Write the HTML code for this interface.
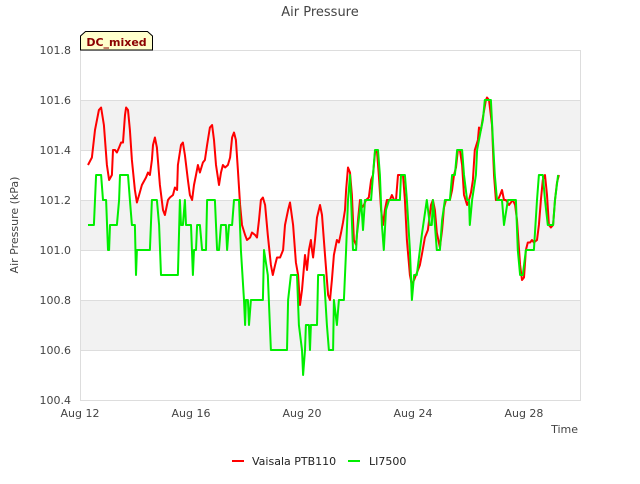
<!DOCTYPE html>
<html><head><meta charset="utf-8"><style>
body{margin:0;background:#fff;font-family:"DejaVu Sans","Liberation Sans",sans-serif;}
svg text{font-family:"DejaVu Sans","Liberation Sans",sans-serif;}
</style></head><body>
<svg id="chart" width="640" height="480" viewBox="0 0 640 480" xmlns="http://www.w3.org/2000/svg">
<rect width="640" height="480" fill="#fff"/>
<g id="bands"></g>
<g id="grid"></g>
<rect x="80.5" y="50.5" width="500" height="350" fill="none" stroke="#ddd"/>
<g id="yticks"></g>
<g id="xticks"></g>
<g id="series"></g>
<text x="320" y="16" text-anchor="middle" font-size="13" fill="#444">Air Pressure</text>
<text transform="translate(18,225) rotate(-90)" text-anchor="middle" font-size="11" fill="#444">Air Pressure (kPa)</text>
<text x="578" y="433" text-anchor="end" font-size="11" fill="#444">Time</text>
<g>
<path d="M80.5,50 L80.5,36 L85.5,31.5 L147.5,31.5 L152.5,36 L152.5,50 Z" fill="#ffffcc" stroke="#000" stroke-width="1"/>
<text x="116.5" y="46" text-anchor="middle" font-size="11" font-weight="bold" fill="#8b0000">DC_mixed</text>
</g>
<g>
<line x1="232" y1="461" x2="244" y2="461" stroke="#ff0000" stroke-width="2"/>
<text x="252" y="465" font-size="11" fill="#222">Vaisala PTB110</text>
<line x1="348" y1="461" x2="360" y2="461" stroke="#00ee00" stroke-width="2"/>
<text x="369" y="465" font-size="11" fill="#222">LI7500</text>
</g>
</svg>
<script>
const yTicks=[100.4,100.6,100.8,101.0,101.2,101.4,101.6,101.8];
const xTickDays=[0,4,8,12,16];
const xTickLabels=["Aug 12","Aug 16","Aug 20","Aug 24","Aug 28"];
const redDays=[.29,.43,.54,.68,.76,.86,.97,1.05,1.15,1.19,1.26,1.33,1.41,1.48,1.55,1.62,1.66,1.73,1.80,1.87,1.98,2.05,2.13,2.23,2.38,2.45,2.52,2.59,2.63,2.70,2.77,2.88,2.99,3.06,3.17,3.24,3.35,3.42,3.50,3.53,3.64,3.71,3.78,3.89,3.96,4.04,4.11,4.18,4.25,4.32,4.43,4.50,4.58,4.68,4.76,4.83,4.90,5.01,5.08,5.15,5.23,5.33,5.41,5.48,5.55,5.62,5.69,5.77,5.84,5.95,6.02,6.13,6.20,6.31,6.38,6.45,6.52,6.59,6.67,6.77,6.88,6.95,7.03,7.10,7.21,7.32,7.39,7.50,7.57,7.68,7.78,7.86,7.93,8.00,8.11,8.18,8.25,8.32,8.36,8.40,8.47,8.54,8.65,8.72,8.83,8.94,9.01,9.08,9.15,9.26,9.33,9.41,9.48,9.55,9.59,9.66,9.73,9.80,9.87,9.95,10.02,10.09,10.16,10.23,10.31,10.41,10.49,10.56,10.63,10.70,10.77,10.85,10.92,10.99,11.06,11.17,11.24,11.32,11.39,11.46,11.57,11.64,11.71,11.78,11.89,11.96,12.04,12.11,12.18,12.25,12.32,12.43,12.54,12.65,12.72,12.79,12.86,12.97,13.05,13.12,13.19,13.26,13.33,13.41,13.48,13.55,13.62,13.69,13.77,13.84,13.95,14.02,14.09,14.16,14.23,14.34,14.38,14.45,14.52,14.63,14.67,14.74,14.85,14.92,14.99,15.06,15.14,15.21,15.28,15.35,15.46,15.53,15.60,15.68,15.75,15.86,15.93,16.00,16.07,16.14,16.22,16.29,16.36,16.47,16.54,16.61,16.68,16.76,16.83,16.90,16.97,17.05,17.12,17.19,17.26];
const redValues=[101.34,101.37,101.48,101.56,101.57,101.50,101.34,101.28,101.30,101.40,101.40,101.39,101.41,101.43,101.43,101.54,101.57,101.56,101.48,101.36,101.24,101.19,101.22,101.26,101.29,101.31,101.30,101.36,101.42,101.45,101.41,101.26,101.16,101.14,101.20,101.21,101.22,101.25,101.24,101.34,101.42,101.43,101.38,101.28,101.22,101.20,101.26,101.30,101.34,101.31,101.35,101.36,101.42,101.49,101.50,101.44,101.34,101.26,101.31,101.34,101.33,101.34,101.37,101.45,101.47,101.44,101.32,101.18,101.10,101.06,101.04,101.05,101.07,101.06,101.05,101.12,101.20,101.21,101.18,101.06,100.94,100.90,100.94,100.97,100.97,101.00,101.10,101.16,101.19,101.10,100.95,100.90,100.78,100.84,100.98,100.92,101.00,101.04,101.00,100.97,101.04,101.13,101.18,101.14,100.98,100.82,100.80,100.88,100.98,101.04,101.03,101.07,101.11,101.16,101.24,101.33,101.31,101.22,101.04,101.02,101.12,101.20,101.17,101.18,101.20,101.21,101.28,101.30,101.39,101.40,101.30,101.16,101.10,101.16,101.20,101.20,101.22,101.20,101.20,101.30,101.30,101.30,101.20,101.04,100.90,100.86,100.88,100.90,100.92,100.94,100.98,101.05,101.08,101.18,101.20,101.16,101.07,101.01,101.08,101.17,101.20,101.20,101.20,101.24,101.30,101.33,101.40,101.40,101.34,101.22,101.18,101.20,101.23,101.28,101.40,101.44,101.49,101.48,101.53,101.60,101.61,101.60,101.50,101.30,101.20,101.20,101.22,101.24,101.20,101.20,101.18,101.19,101.20,101.18,101.12,100.94,100.88,100.89,101.00,101.03,101.03,101.04,101.03,101.04,101.10,101.20,101.28,101.30,101.22,101.10,101.09,101.10,101.20,101.27,101.30];
const greenDays=[.29,.50,.58,.76,.83,.94,1.01,1.05,1.08,1.33,1.41,1.44,1.73,1.80,1.87,1.98,2.02,2.05,2.52,2.59,2.77,2.85,2.92,3.53,3.60,3.64,3.71,3.78,3.82,4.00,4.07,4.11,4.18,4.22,4.32,4.40,4.54,4.58,4.86,4.94,5.01,5.08,5.26,5.30,5.37,5.48,5.55,5.73,5.80,5.91,5.95,5.98,6.05,6.09,6.16,6.59,6.63,6.77,6.88,7.46,7.50,7.60,7.82,7.89,8.00,8.04,8.11,8.14,8.25,8.29,8.32,8.54,8.58,8.79,8.90,8.97,9.12,9.15,9.26,9.33,9.51,9.55,9.59,9.66,9.73,9.77,9.84,9.95,9.98,10.13,10.20,10.27,10.49,10.56,10.63,10.74,10.81,10.88,10.95,11.03,11.14,11.53,11.57,11.71,11.78,11.89,11.96,12.04,12.14,12.25,12.32,12.50,12.61,12.68,12.72,12.79,12.86,12.97,13.05,13.15,13.33,13.41,13.51,13.59,13.77,13.84,13.95,14.02,14.05,14.13,14.27,14.31,14.38,14.45,14.52,14.59,14.81,14.88,14.95,15.03,15.21,15.28,15.42,15.71,15.78,15.86,15.96,16.07,16.36,16.47,16.54,16.68,16.76,16.86,17.05,17.12,17.23];
const greenValues=[101.1,101.1,101.3,101.3,101.2,101.2,101.0,101.0,101.1,101.1,101.2,101.3,101.3,101.2,101.1,101.1,100.9,101.0,101.0,101.2,101.2,101.1,100.9,100.9,101.2,101.1,101.1,101.2,101.1,101.1,100.9,101.0,101.0,101.1,101.1,101.0,101.0,101.2,101.2,101.0,101.0,101.1,101.1,101.0,101.1,101.1,101.2,101.2,101.0,100.8,100.7,100.8,100.8,100.7,100.8,100.8,101.0,100.9,100.6,100.6,100.8,100.9,100.9,100.7,100.6,100.5,100.6,100.7,100.7,100.6,100.7,100.7,100.9,100.9,100.7,100.6,100.6,100.8,100.7,100.8,100.8,100.9,101.0,101.2,101.3,101.2,101.0,101.0,101.06,101.2,101.08,101.2,101.2,101.3,101.4,101.4,101.3,101.1,101.0,101.16,101.2,101.2,101.3,101.3,101.2,101.0,100.8,100.9,100.9,101.0,101.06,101.2,101.1,101.1,101.2,101.1,101.0,101.0,101.12,101.2,101.2,101.3,101.3,101.4,101.4,101.3,101.2,101.2,101.1,101.2,101.3,101.4,101.44,101.48,101.52,101.6,101.6,101.44,101.3,101.2,101.2,101.1,101.2,101.2,101.0,100.9,100.9,101.0,101.0,101.2,101.3,101.3,101.2,101.1,101.1,101.2,101.3];

const NS="http://www.w3.org/2000/svg";
const X0=80,X1=580,Y0=400,Y1=50,DMIN=0,DMAX=18.02,VMIN=100.4,VMAX=101.8;
function xs(d){return X0+(d-DMIN)/(DMAX-DMIN)*(X1-X0);}
function ys(v){return Y0-(v-VMIN)/(VMAX-VMIN)*(Y0-Y1);}
function mk(tag,attrs,parent){const e=document.createElementNS(NS,tag);for(const k in attrs)e.setAttribute(k,attrs[k]);parent.appendChild(e);return e;}
const bands=document.getElementById('bands'),grid=document.getElementById('grid'),yt=document.getElementById('yticks'),xt=document.getElementById('xticks'),ser=document.getElementById('series');
for(let i=1;i<yTicks.length-1;i+=2){
  const b=mk('rect',{x:X0,y:ys(yTicks[i+1]),width:X1-X0,height:ys(yTicks[i])-ys(yTicks[i+1]),fill:'#f2f2f2'},bands);
  
  
}
yTicks.forEach(v=>{
  const l=mk('line',{x1:X0,x2:X1,y1:ys(v)+0.5,y2:ys(v)+0.5,stroke:'#ddd'},grid);
  
  
  const t=mk('text',{x:71,y:ys(v)+4,'text-anchor':'end','font-size':'11',fill:'#444'},yt);
  
  
  t.textContent=v.toFixed(1);
});
xTickDays.forEach((d,i)=>{
  const t=mk('text',{x:xs(d),y:417,'text-anchor':'middle','font-size':'11',fill:'#444'},xt);
  
  
  t.textContent=xTickLabels[i];
});
function pts(ds,vs){return ds.map((d,i)=>xs(d).toFixed(1)+','+ys(vs[i]).toFixed(1)).join(' ');}
const r=mk('polyline',{points:pts(redDays,redValues),fill:'none',stroke:'#ff0000','stroke-width':'2','stroke-linejoin':'round'},ser);


const g=mk('polyline',{points:pts(greenDays,greenValues),fill:'none',stroke:'#00ee00','stroke-width':'2','stroke-linejoin':'round'},ser);


</script>
</body></html>
